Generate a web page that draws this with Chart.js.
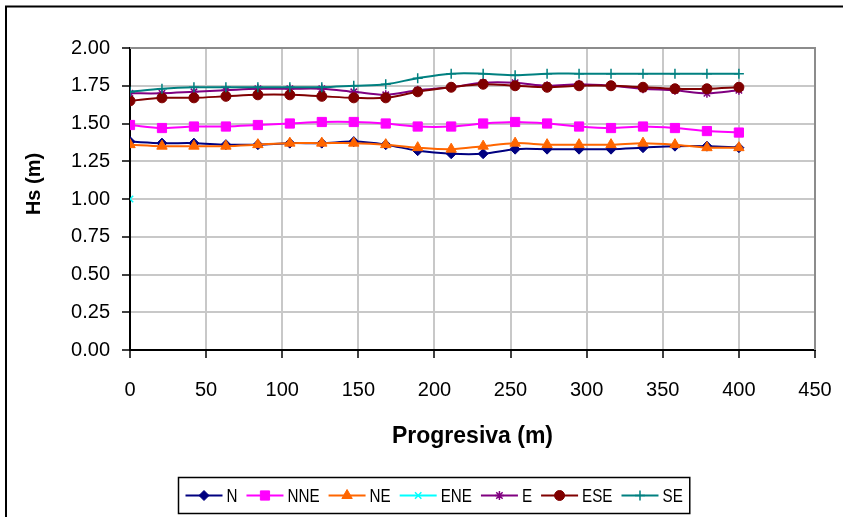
<!DOCTYPE html>
<html>
<head>
<meta charset="utf-8">
<script src="https://cdn.jsdelivr.net/npm/chart.js@4/dist/chart.umd.min.js"></script>
<style>
  html, body { margin: 0; padding: 0; background: #fff; }
  #wrap { width: 843px; height: 517px; position: relative; }
</style>
</head>
<body>
<div id="wrap"><canvas id="c"></canvas></div>
<script>
// Progresiva (m) of each computed profile point
const progresiva = [0, 21, 42, 63, 84, 105, 126, 147, 168, 189, 211, 232, 253, 274, 295, 316, 337, 358, 379, 400];

// Significant wave height Hs (m) per incoming direction
const hsN   = [1.38, 1.37, 1.37, 1.36, 1.36, 1.37, 1.37, 1.38, 1.36, 1.32, 1.30, 1.30, 1.33, 1.33, 1.33, 1.33, 1.34, 1.35, 1.35, 1.34];
const hsNNE = [1.49, 1.47, 1.48, 1.48, 1.49, 1.50, 1.51, 1.51, 1.50, 1.48, 1.48, 1.50, 1.51, 1.50, 1.48, 1.47, 1.48, 1.47, 1.45, 1.44];
const hsNE  = [1.36, 1.35, 1.35, 1.35, 1.36, 1.37, 1.37, 1.37, 1.36, 1.34, 1.33, 1.35, 1.37, 1.36, 1.36, 1.36, 1.37, 1.36, 1.34, 1.34];
const hsENE = [1.00, null, null, null, null, null, null, null, null, null, null, null, null, null, null, null, null, null, null, null];
const hsE   = [1.70, 1.70, 1.71, 1.72, 1.73, 1.73, 1.73, 1.71, 1.69, 1.72, 1.74, 1.77, 1.77, 1.75, 1.76, 1.75, 1.73, 1.72, 1.70, 1.72];
const hsESE = [1.65, 1.67, 1.67, 1.68, 1.69, 1.69, 1.68, 1.67, 1.67, 1.71, 1.74, 1.76, 1.75, 1.74, 1.75, 1.75, 1.74, 1.73, 1.73, 1.74];
const hsSE  = [1.71, 1.73, 1.74, 1.74, 1.74, 1.74, 1.74, 1.75, 1.76, 1.80, 1.83, 1.83, 1.82, 1.83, 1.83, 1.83, 1.83, 1.83, 1.83, 1.83];

const directions = ['N', 'NNE', 'NE', 'ENE', 'E', 'ESE', 'SE'];
const seriesValues = [hsN, hsNNE, hsNE, hsENE, hsE, hsESE, hsSE];

// Axis tick values
const xTickValues = [0, 50, 100, 150, 200, 250, 300, 350, 400, 450];
const yTickValues = [0, 0.25, 0.5, 0.75, 1.0, 1.25, 1.5, 1.75, 2.0];

// Series styling
const lineColors  = ['#000080', '#FF00FF', '#FF6600', '#00FFFF', '#800080', '#800000', '#008080'];
const markerStyle = ['rectRot', 'rect', 'triangle', 'crossRot', 'star', 'circle', 'cross'];
const markerSize  = [5, 6.5, 6, 4.5, 4.5, 5, 5];

const FONT = '"Liberation Sans", Arial, sans-serif';

const datasets = directions.map((name, i) => ({
  label: name,
  data: progresiva
    .map((x, k) => ({ x: x, y: seriesValues[i][k] }))
    .filter(p => p.y !== null),
  borderColor: lineColors[i],
  backgroundColor: lineColors[i],
  pointBackgroundColor: lineColors[i],
  pointBorderColor: lineColors[i],
  pointStyle: markerStyle[i],
  pointRadius: markerSize[i],
  pointBorderWidth: (markerStyle[i] === 'cross' || markerStyle[i] === 'crossRot' || markerStyle[i] === 'star') ? 1.5 : 1,
  borderWidth: 2,
  tension: 0.33,
  fill: false,
  order: directions.length - i
}));

const framePlugin = {
  id: 'frame',
  beforeDraw(chart) {
    const ctx = chart.ctx;
    ctx.save();
    ctx.fillStyle = '#ffffff';
    ctx.fillRect(0, 0, chart.width, chart.height);
    ctx.restore();
  },
  beforeDatasetsDraw(chart) {
    const { ctx, chartArea: a } = chart;
    ctx.save();
    ctx.strokeStyle = '#8c8c8c';
    ctx.lineWidth = 2;
    ctx.beginPath();
    ctx.moveTo(a.left, a.top);
    ctx.lineTo(a.right, a.top);
    ctx.lineTo(a.right, a.bottom);
    ctx.stroke();
    ctx.restore();
  },
  afterDraw(chart) {
    const ctx = chart.ctx;
    ctx.save();

    // outer chart frame
    ctx.strokeStyle = '#000000';
    ctx.lineWidth = 2;
    ctx.beginPath();
    ctx.moveTo(6, chart.height + 2);
    ctx.lineTo(6, 6.5);
    ctx.lineTo(chart.width + 2, 6.5);
    ctx.stroke();

    // vertical axis title
    ctx.save();
    ctx.translate(34, 184);
    ctx.rotate(-Math.PI / 2);
    ctx.font = 'bold 20px ' + FONT;
    ctx.fillStyle = '#000000';
    ctx.textAlign = 'center';
    ctx.textBaseline = 'middle';
    ctx.fillText('Hs (m)', 0, 0);
    ctx.restore();

    // legend: line + marker + name for each series
    const sx = 0.8;
    ctx.font = '19px ' + FONT;
    const lineLen = 37, gapText = 4, gapItem = 9, padX = 7;
    const widths = chart.data.datasets.map(d => ctx.measureText(d.label).width * sx);
    let total = padX * 2 + gapItem * (widths.length - 1);
    widths.forEach(w => { total += lineLen + gapText + w; });
    const boxTop = 477.5, boxH = 36;
    const boxLeft = Math.round(433.5 - total / 2) + 0.5;
    ctx.lineWidth = 1.5;
    ctx.strokeStyle = '#000000';
    ctx.strokeRect(boxLeft, boxTop, total, boxH);
    const cy = boxTop + boxH / 2;
    let x = boxLeft + padX;
    chart.data.datasets.forEach((d, i) => {
      ctx.strokeStyle = d.borderColor;
      ctx.lineWidth = 2;
      ctx.beginPath();
      ctx.moveTo(x, cy);
      ctx.lineTo(x + lineLen, cy);
      ctx.stroke();
      ctx.fillStyle = d.pointBackgroundColor;
      ctx.strokeStyle = d.pointBorderColor;
      ctx.lineWidth = d.pointBorderWidth;
      Chart.helpers.drawPoint(ctx, {
        pointStyle: d.pointStyle,
        radius: d.pointRadius,
        rotation: 0,
        borderWidth: d.pointBorderWidth
      }, x + lineLen / 2, cy);
      ctx.save();
      ctx.translate(x + lineLen + gapText, cy + 1);
      ctx.scale(sx, 1);
      ctx.fillStyle = '#000000';
      ctx.textAlign = 'left';
      ctx.textBaseline = 'middle';
      ctx.fillText(d.label, 0, 0);
      ctx.restore();
      x += lineLen + gapText + widths[i] + gapItem;
    });

    ctx.restore();
  }
};

new Chart(document.getElementById('c'), {
  type: 'line',
  data: { datasets: datasets },
  plugins: [framePlugin],
  options: {
    responsive: true,
    maintainAspectRatio: false,
    animation: false,
    layout: { padding: { left: 0, right: 28, top: 48, bottom: 47 } },
    plugins: {
      legend: { display: false },
      tooltip: { enabled: false }
    },
    scales: {
      x: {
        type: 'linear',
        min: 0,
        max: 450,
        afterBuildTicks: s => { s.ticks = xTickValues.map(v => ({ value: v })); },
        afterFit: s => { s.height = 120; },
        grid: { color: '#c8c8c8', lineWidth: 2, tickColor: '#000000', tickLength: 8, tickWidth: 1.5 },
        border: { color: '#000000', width: 2 },
        ticks: { color: '#000000', font: { family: FONT, size: 20, lineHeight: 2.4 }, padding: 8, maxRotation: 0 },
        title: {
          display: true,
          text: 'Progresiva (m)',
          color: '#000000',
          font: { family: FONT, size: 23, weight: 'bold' },
          padding: { top: 0, bottom: 20 }
        }
      },
      y: {
        min: 0,
        max: 2,
        afterBuildTicks: s => { s.ticks = yTickValues.map(v => ({ value: v })); },
        afterFit: s => { s.width = 130; },
        grid: { color: '#c8c8c8', lineWidth: 2, tickColor: '#000000', tickLength: 8, tickWidth: 1.5 },
        border: { color: '#000000', width: 2 },
        ticks: {
          color: '#000000',
          font: { family: FONT, size: 20 },
          padding: 12,
          callback: v => Number(v).toFixed(2)
        }
      }
    }
  }
});
</script>
</body>
</html>
